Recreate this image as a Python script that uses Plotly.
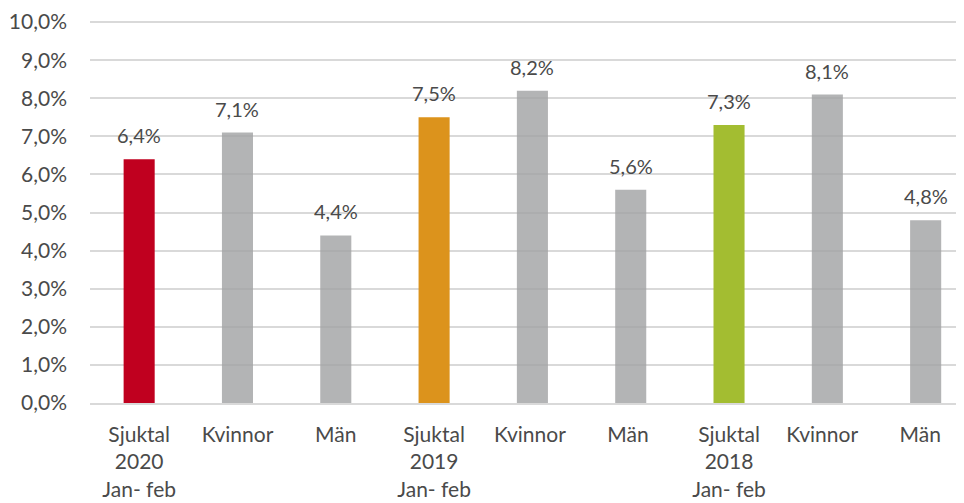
import plotly.graph_objects as go

categories = ["Sjuktal<br>2020<br>Jan- feb", "Kvinnor", "Män",
              "Sjuktal<br>2019<br>Jan- feb", "Kvinnor ", "Män ",
              "Sjuktal<br>2018<br>Jan- feb", "Kvinnor  ", "Män  "]
values = [6.4, 7.1, 4.4, 7.5, 8.2, 5.6, 7.3, 8.1, 4.8]
colors = ["#C0001F", "rgba(160,161,163,0.8)", "rgba(160,161,163,0.8)",
          "#DC931C", "rgba(160,161,163,0.8)", "rgba(160,161,163,0.8)",
          "#A3BD31", "rgba(160,161,163,0.8)", "rgba(160,161,163,0.8)"]
y_ticks = [0, 1, 2, 3, 4, 5, 6, 7, 8, 9, 10]
y_tick_labels = [f"{v:.1f}%".replace(".", ",") for v in y_ticks]
value_labels = [f"{v:.1f}%".replace(".", ",") for v in values]

FONT = "Lato"
TXT = "#4a4a4a"

xs = list(range(len(categories)))
fig = go.Figure()
fig.add_trace(go.Bar(x=xs, y=values, marker=dict(color=colors, line=dict(width=0)),
                     width=0.316, hoverinfo="skip"))

for x, v, lab in zip(xs, values, value_labels):
    fig.add_annotation(x=x, y=v, text=lab, showarrow=False, yanchor="bottom",
                       yshift=10, font=dict(family=FONT, size=20, color=TXT))

fig.update_layout(
    width=956, height=495,
    margin=dict(l=82, r=0, t=11, b=100),
    paper_bgcolor="white", plot_bgcolor="white",
    showlegend=False,
    font=dict(family=FONT, color=TXT, size=21),
    xaxis=dict(tickmode="array", tickvals=xs, ticktext=categories,
               range=[-0.5, 8.39], showgrid=False, zeroline=False,
               showline=True, linecolor="#d9d9d9", linewidth=1.5,
               ticks="", ticklabelstandoff=12, ticklabeloverflow="allow",
               tickfont=dict(family=FONT, size=21, color=TXT)),
    yaxis=dict(range=[0, 10.03], tickmode="array", tickvals=y_ticks, ticktext=y_tick_labels,
               showgrid=True, gridcolor="#d9d9d9", gridwidth=1.5, zeroline=False,
               showline=False, ticks="", ticklabelstandoff=22, ticklabeloverflow="allow",
               tickfont=dict(family=FONT, size=21, color=TXT)),
)

fig.write_html("out.html")
